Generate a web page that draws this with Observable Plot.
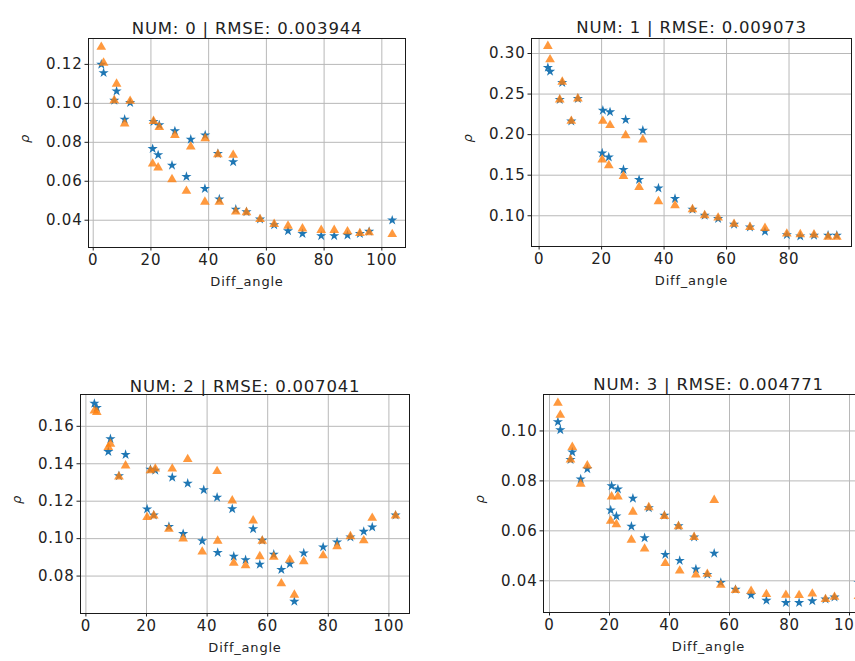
<!DOCTYPE html>
<html>
<head>
<meta charset="utf-8">
<script src="https://cdn.jsdelivr.net/npm/d3@7"></script>
<script src="https://cdn.jsdelivr.net/npm/@observablehq/plot@0.6"></script>
<style>
  body { margin: 0; background: #fff; }
  #wrap { position: relative; width: 855px; height: 661px; overflow: hidden; background: #fff; font-family: "DejaVu Sans", sans-serif; }
  #wrap svg { position: absolute; }
  #wrap svg text { letter-spacing: 0.8px; }
</style>
</head>
<body>
<div id="wrap"></div>
<script>
// ---- data ----
const titles = [
  "NUM: 0 | RMSE: 0.003944",
  "NUM: 1 | RMSE: 0.009073",
  "NUM: 2 | RMSE: 0.007041",
  "NUM: 3 | RMSE: 0.004771"
];
const xLabel = "Diff_angle";
const yLabel = "ρ";

const xTicksLong = [0, 20, 40, 60, 80, 100];
const xTicksShort = [0, 20, 40, 60, 80];
const yTicks0 = [0.04, 0.06, 0.08, 0.10, 0.12];
const yTicks1 = [0.10, 0.15, 0.20, 0.25, 0.30];
const yTicks2 = [0.08, 0.10, 0.12, 0.14, 0.16];
const yTicks3 = [0.04, 0.06, 0.08, 0.10];

// panel 0
const angles0 = [2.8, 3.6, 7.3, 8.1, 10.9, 12.8, 20.6, 20.9, 22.5, 22.9, 27.3, 28.3, 32.3, 33.8, 38.7, 38.8, 43.2, 43.7, 48.5, 49.4, 53.1, 57.8, 62.7, 67.5, 72.5, 79.0, 83.5, 88.1, 92.4, 95.6, 103.6];
const stars0 = [0.1200, 0.1157, 0.1015, 0.1063, 0.0918, 0.1003, 0.0767, 0.0906, 0.0735, 0.0889, 0.0682, 0.0858, 0.0624, 0.0815, 0.0562, 0.0837, 0.0742, 0.0508, 0.0699, 0.0456, 0.0443, 0.0405, 0.0376, 0.0345, 0.0331, 0.0320, 0.0320, 0.0323, 0.0331, 0.0342, 0.0400];
const tris0 = [0.1289, 0.1208, 0.1015, 0.1100, 0.0895, 0.1012, 0.0690, 0.0909, 0.0670, 0.0878, 0.0610, 0.0836, 0.0550, 0.0777, 0.0494, 0.0820, 0.0738, 0.0494, 0.0735, 0.0444, 0.0440, 0.0405, 0.0380, 0.0371, 0.0357, 0.0349, 0.0349, 0.0342, 0.0333, 0.0337, 0.0328];

// panel 1
const angles1 = [2.8, 3.5, 6.6, 7.4, 10.3, 12.4, 20.2, 20.4, 22.3, 22.7, 27.0, 27.7, 32.0, 33.2, 38.2, 43.5, 49.1, 53.0, 57.3, 62.4, 67.5, 72.3, 79.3, 83.6, 88.0, 92.5, 95.3];
const stars1 = [0.2827, 0.2778, 0.2432, 0.2640, 0.2165, 0.2444, 0.1773, 0.2300, 0.1723, 0.2279, 0.1568, 0.2185, 0.1444, 0.2053, 0.1341, 0.1210, 0.1078, 0.1004, 0.0963, 0.0893, 0.0860, 0.0806, 0.0765, 0.0748, 0.0757, 0.0757, 0.0757];
const tris1 = [0.3090, 0.2926, 0.2432, 0.2650, 0.2168, 0.2444, 0.1691, 0.2168, 0.1621, 0.2115, 0.1489, 0.1991, 0.1353, 0.1938, 0.1177, 0.1127, 0.1078, 0.1004, 0.0975, 0.0898, 0.0860, 0.0847, 0.0778, 0.0770, 0.0767, 0.0740, 0.0740];

// panel 2
const angles2 = [2.8, 3.6, 7.4, 8.1, 10.9, 13.1, 20.2, 21.3, 22.4, 22.9, 27.4, 28.5, 32.1, 33.6, 38.4, 38.9, 43.3, 43.5, 48.3, 48.8, 52.7, 55.2, 57.4, 58.2, 62.0, 64.5, 67.3, 68.8, 71.9, 78.3, 82.9, 87.3, 91.7, 94.5, 102.2];
const stars2 = [0.1722, 0.1700, 0.1465, 0.1533, 0.1335, 0.1449, 0.1158, 0.1370, 0.1125, 0.1365, 0.1064, 0.1327, 0.1026, 0.1295, 0.0988, 0.1260, 0.1220, 0.0925, 0.1159, 0.0905, 0.0887, 0.1052, 0.0862, 0.0990, 0.0916, 0.0834, 0.0865, 0.0664, 0.0923, 0.0955, 0.0981, 0.1008, 0.1038, 0.1061, 0.1125];
const tris2 = [0.1683, 0.1676, 0.1488, 0.1506, 0.1331, 0.1390, 0.1114, 0.1364, 0.1123, 0.1373, 0.1052, 0.1373, 0.1000, 0.1424, 0.0930, null, 0.1360, 0.0988, 0.1203, 0.0870, 0.0857, 0.1096, 0.0905, 0.0988, 0.0902, 0.0760, 0.0887, 0.0699, 0.0878, 0.0910, 0.0958, 0.1012, 0.0990, 0.1110, 0.1122];

// panel 3
const angles3 = [2.8, 3.6, 7.0, 7.6, 10.4, 12.6, 20.4, 20.7, 22.3, 22.8, 27.3, 27.8, 31.7, 33.1, 38.3, 38.6, 43.0, 43.4, 48.2, 48.8, 52.6, 54.9, 57.1, 62.0, 67.2, 72.3, 78.8, 83.2, 87.6, 92.0, 95.0, 103.0];
const stars3 = [0.1036, 0.1004, 0.0885, 0.0915, 0.0807, 0.0848, 0.0683, 0.0780, 0.0659, 0.0767, 0.0618, 0.0730, 0.0572, 0.0692, 0.0662, 0.0505, 0.0620, 0.0481, 0.0575, 0.0447, 0.0425, 0.0510, 0.0393, 0.0365, 0.0343, 0.0321, 0.0312, 0.0312, 0.0319, 0.0326, 0.0334, 0.0393];
const tris3 = [0.1112, 0.1064, 0.0885, 0.0935, 0.0788, 0.0861, 0.0640, 0.0737, 0.0626, 0.0737, 0.0564, 0.0676, 0.0528, 0.0694, 0.0659, 0.0470, 0.0618, 0.0440, 0.0575, 0.0424, 0.0427, 0.0723, 0.0383, 0.0362, 0.0359, 0.0346, 0.0343, 0.0342, 0.0348, 0.0326, 0.0335, 0.0338];

// ---- layout ----
const panels = [
  {angles: angles0, stars: stars0, tris: tris0, title: titles[0], xTicks: xTicksLong, yTicks: yTicks0,
   xDomain: [-1.63, 108.2], yDomain: [0.026, 0.1333], frame: [88, 38, 405, 247], titleDy: -16.5},
  {angles: angles1, stars: stars1, tris: tris1, title: titles[1], xTicks: xTicksShort, yTicks: yTicks1,
   xDomain: [-2.44, 100.0], yDomain: [0.0621, 0.3185], frame: [531, 38, 851, 246], titleDy: -17.5},
  {angles: angles2, stars: stars2, tris: tris2, title: titles[2], xTicks: xTicksLong, yTicks: yTicks2,
   xDomain: [-1.78, 106.8], yDomain: [0.06, 0.177], frame: [80, 394, 409, 613], titleDy: -14},
  {angles: angles3, stars: stars3, tris: tris3, title: titles[3], xTicks: xTicksLong, yTicks: yTicks3,
   xDomain: [-2.0, 108.0], yDomain: [0.0273, 0.1146], frame: [543, 394, 873, 612], titleDy: -16}
];

const mL = 72, mR = 8, mT = 32, mB = 48;
const wrap = document.getElementById("wrap");
const fmt2 = d3.format(".2f");

for (const p of panels) {
  const [fl, ft, fr, fb] = p.frame;
  const chart = Plot.plot({
    width: fr - fl + mL + mR,
    height: fb - ft + mT + mB,
    marginLeft: mL, marginRight: mR, marginTop: mT, marginBottom: mB,
    style: {fontFamily: "DejaVu Sans, sans-serif", fontSize: "15px", color: "#222", background: "transparent", maxWidth: "none", overflow: "visible"},
    x: {domain: p.xDomain},
    y: {domain: p.yDomain},
    marks: [
      Plot.gridX(p.xTicks, {stroke: "#b8b8b8", strokeOpacity: 1, strokeWidth: 1}),
      Plot.gridY(p.yTicks, {stroke: "#b8b8b8", strokeOpacity: 1, strokeWidth: 1}),
      Plot.axisX(p.xTicks, {tickSize: 3.5, tickPadding: 3, label: null, tickFormat: d => String(d)}),
      Plot.axisY(p.yTicks, {tickSize: 3.5, tickPadding: 2.5, label: null, tickFormat: fmt2}),
      Plot.dot(p.stars, {x: p.angles, y: p.stars, symbol: "star", r: 3.2, fill: "#1f77b4", stroke: null}),
      Plot.dot(p.tris, {x: p.angles, y: p.tris, symbol: "triangle", r: 3.6, fill: "#ff7f0e", fillOpacity: 0.8, stroke: null}),
      Plot.frame({stroke: "#1a1a1a", strokeWidth: 1}),
      Plot.text([p.title], {text: d => d, frameAnchor: "top", dy: p.titleDy, fontSize: 16.5, fill: "#222"}),
      Plot.text([xLabel], {text: d => d, frameAnchor: "bottom", dy: 38, fontSize: 13, fill: "#222"}),
      Plot.text([yLabel], {text: d => d, frameAnchor: "left", dx: -64, rotate: -90, fontSize: 13, fontStyle: "italic", fill: "#222"})
    ]
  });
  chart.style.left = (fl - mL) + "px";
  chart.style.top = (ft - mT) + "px";
  wrap.appendChild(chart);
}
</script>
</body>
</html>
